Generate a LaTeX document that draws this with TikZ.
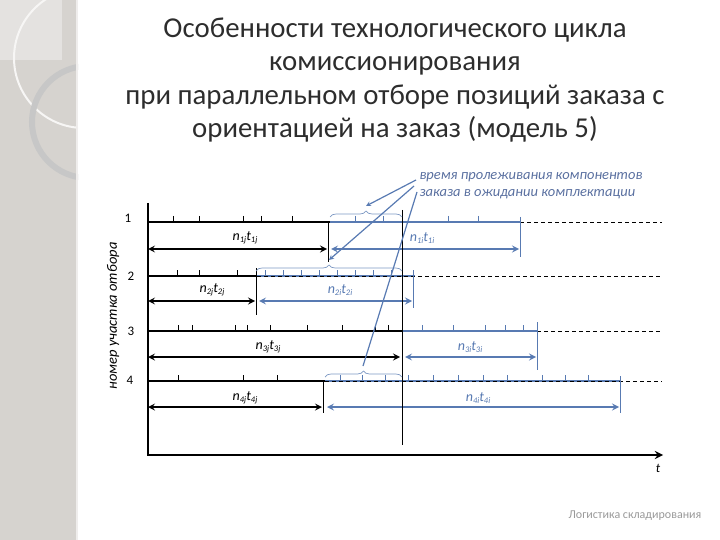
\documentclass[tikz,border=0pt]{standalone}
\usepackage{fontspec}
\setmainfont{Carlito}
\usetikzlibrary{decorations.pathreplacing}
\definecolor{lineblue}{RGB}{88,122,178}
\definecolor{braceblue}{RGB}{125,152,195}
\definecolor{notetext}{RGB}{90,112,160}
\definecolor{panel}{RGB}{214,211,207}
\definecolor{titlegray}{RGB}{45,45,45}
\newcommand{\ntlab}[1]{\textit{n{\fontsize{8.5}{9}\selectfont\raisebox{-2.5pt}{#1}}t{\fontsize{8.5}{9}\selectfont\raisebox{-2.5pt}{#1}}}}

\begin{document}
\begin{tikzpicture}[>=stealth, x=1pt, y=-1pt,
    rowline/.style={line width=2.6pt},
    tick/.style={line width=.7pt},
    lenarrow/.style={<->, line width=2pt},
    endline/.style={line width=.8pt},
    waitline/.style={dashed, line width=.8pt, dash pattern=on 4pt off 3pt},
    wbrace/.style={braceblue, line width=.7pt, decorate, decoration={brace, amplitude=6pt}},
    lab/.style={font=\fontsize{14}{14}\selectfont},
    num/.style={font=\fontsize{13}{13}\selectfont}]
\useasboundingbox (0,0) rectangle (720,540);

% left panel
\fill[panel] (0,0) rectangle (78,540);
\begin{scope}
    \clip (0,0) rectangle (78,540);
    \fill[white!35!panel] (0,0) rectangle (62,60);
    \draw[white!80!panel, line width=2pt] (84,58) circle (70);
    \draw[black!22, line width=6pt] (88,122) circle (56);
\end{scope}
\draw[white!60!panel, line width=2pt] (77,0)--(77,540);

\node[align=center, text=titlegray, font=\fontsize{28.8}{33.4}\selectfont] (title) at (395,80)
    {Особенности технологического цикла\\комиссионирования\\при параллельном отборе позиций заказа с\\ориентацией на заказ (модель 5)};

% axes
\draw[line width=2.6pt] (148,203)--(148,456);
\draw[->, line width=2.6pt] (147,455)--(663,455);
\node[num] (tlab) at (658,468) {\textit{t}};
\node[rotate=90, font=\itshape\fontsize{14.5}{14.5}\selectfont] (ylab) at (113,316) {номер участка отбора};

% row 1
\node[num] (r1) at (128,218) {1};
\draw[waitline] (520,222)--(662,222);
\draw[rowline] (148,222)--(330,222);
\draw[rowline, lineblue] (330,222)--(520,222);
\foreach \x in {173,199,243,261,292}
    \draw[tick] (\x,216)--(\x,222);
\foreach \x in {355,383,448,478}
    \draw[tick, lineblue] (\x,216)--(\x,222);
\draw[endline] (328,222)--(328,262);
\draw[endline, lineblue] (520,217)--(520,257);
\draw[lenarrow] (148,249)--(327,249);
\draw[lenarrow, lineblue] (331,249)--(519,249);
\node[lab] (n1j) at (245,238) {\ntlab{1j}};
\node[lab, text=lineblue] (n1i) at (422,238) {\ntlab{1i}};

% row 2
\node[num] (r2) at (131,276) {2};
\draw[rowline] (148,276)--(257,276);
\draw[rowline, lineblue] (257,276)--(415,276);
\draw[waitline] (257,276)--(662,276);
\foreach \x in {177,199,237}
    \draw[tick] (\x,270)--(\x,276);
\foreach \x in {265,283,...,405}
    \draw[tick, lineblue] (\x,270)--(\x,276);
\draw[endline] (256,268)--(256,315);
\draw[endline, lineblue] (413,270)--(413,308);
\draw[lenarrow] (148,301)--(255,301);
\draw[lenarrow, lineblue] (259,301)--(412,301);
\node[lab] (n2j) at (212,290) {\ntlab{2j}};
\node[lab, text=lineblue] (n2i) at (340,290) {\ntlab{2i}};

% row 3
\node[num] (r3) at (131,331) {3};
\draw[waitline] (537,331)--(662,331);
\draw[rowline] (148,331)--(402,331);
\draw[rowline, lineblue] (402,331)--(537,331);
\foreach \x in {178,192,235,247,270,307,342,375,388}
    \draw[tick] (\x,325)--(\x,331);
\foreach \x in {422,453,485,505,523}
    \draw[tick, lineblue] (\x,325)--(\x,331);
\draw[endline, lineblue] (537,322)--(537,370);
\draw[lenarrow] (148,357)--(400,357);
\draw[lenarrow, lineblue] (405,357)--(536,357);
\node[lab] (n3j) at (268,347) {\ntlab{3j}};
\node[lab, text=lineblue] (n3i) at (470,347) {\ntlab{3i}};

% row 4
\node[num] (r4) at (130,380) {4};
\draw[rowline] (148,381)--(325,381);
\draw[rowline, lineblue] (325,381)--(620,381);
\draw[waitline] (325,381)--(662,381);
\foreach \x in {178,243,277}
    \draw[tick] (\x,375)--(\x,381);
\foreach \x in {340,362,385,408,433,458,483,507,542,565,588}
    \draw[tick, lineblue] (\x,375)--(\x,381);
\draw[endline] (323,381)--(323,413);
\draw[endline, lineblue] (620,376)--(620,413);
\draw[lenarrow] (148,407)--(322,407);
\draw[lenarrow, lineblue] (327,407)--(619,407);
\node[lab] (n4j) at (245,398) {\ntlab{4j}};
\node[lab, text=lineblue] (n4i) at (478,398) {\ntlab{4i}};

% order completion moment
\draw[line width=.9pt] (402,210)--(402,445);

% waiting braces
\draw[wbrace] (330,217)--(402,217);
\draw[wbrace] (256,271)--(402,271);
\draw[wbrace] (325,377)--(402,377);
\coordinate (w1) at (366,206);
\coordinate (w2) at (329,260);
\coordinate (w4) at (363,366);

\node[anchor=west, align=left, text=notetext, font=\itshape\fontsize{14.5}{17}\selectfont] (note) at (416,186)
    {время пролеживания компонентов\\заказа в ожидании комплектации};
\draw[->, lineblue, line width=1.2pt] (note.west)+(0,-6) -- (w1);
\draw[->, lineblue, line width=1.2pt] (note.west)+(-2,0) -- (w2);
\draw[lineblue, line width=1.2pt] (note.west)+(1,6) -- (w4);

\node[text=black!40, font=\fontsize{12}{12}\selectfont] (footer) at (635,516) {Логистика складирования};
\end{tikzpicture}
\end{document}
